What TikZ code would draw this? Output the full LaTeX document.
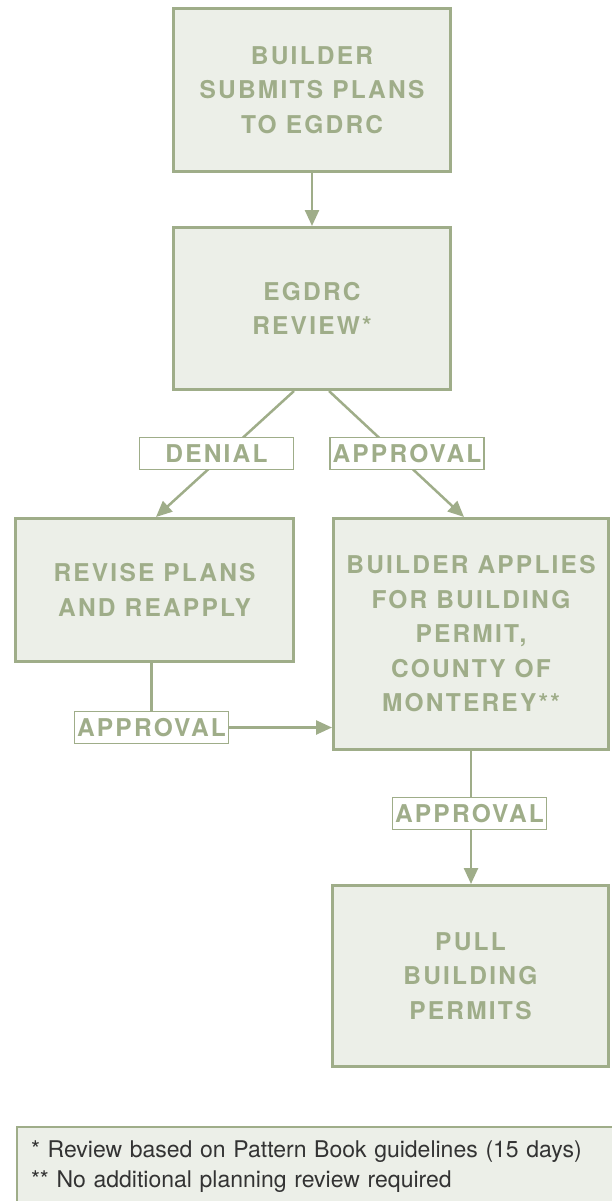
\documentclass[tikz,border=0pt]{standalone}
\usepackage{fontspec}
\setmainfont{TeX Gyre Heros}
\newfontfamily\labfont[LetterSpace=9]{TeX Gyre Heros}
\usepackage{xcolor}
\usetikzlibrary{positioning,arrows.meta}
\definecolor{sage}{HTML}{9FAD89}
\definecolor{paper}{HTML}{ECEFE8}
\definecolor{ink}{HTML}{333333}

\begin{document}
\begin{tikzpicture}[x=1pt, y=-1pt,
  box/.style={draw=sage, line width=3pt, fill=paper, text=sage, align=center, inner sep=0pt,
    font=\labfont\bfseries\fontsize{24.5}{34.5}\selectfont},
  tag/.style={draw=sage, line width=1.3pt, fill=white, text=sage, inner sep=0pt,
    minimum width=154pt, minimum height=32pt, font=\labfont\bfseries\fontsize{24.5}{28}\selectfont},
  note/.style={draw=sage, line width=2pt, fill=paper, text=ink, align=left, inner xsep=14pt,
    inner ysep=14pt, text width=575pt, font=\fontsize{23}{30}\selectfont},
  arr/.style={draw=sage, line width=2.5pt, -{Triangle[length=16pt, width=14pt]}},
  link/.style={draw=sage, line width=2.5pt}]
\useasboundingbox (0,0) rectangle (611,1201);
\node[box, minimum width=277pt, minimum height=163pt] (submit) at (312,90) {BUILDER\\ SUBMITS PLANS\\ TO EGDRC};
\node[box, minimum width=277pt, minimum height=162pt, below=53pt of submit] (review) {EGDRC\\ REVIEW*};
\node[box, minimum width=278pt, minimum height=143pt] (revise) at (154.5,590) {REVISE PLANS\\ AND REAPPLY};
\node[box, minimum width=275pt, minimum height=231pt] (builder) at (471,634)
  {BUILDER APPLIES\\ FOR BUILDING\\ PERMIT,\\ COUNTY OF\\ MONTEREY**};
\node[box, minimum width=276pt, minimum height=181pt] (pull) at (470.5,976) {PULL\\ BUILDING\\ PERMITS};
\draw[arr] (submit) -- (review);
\draw[arr] ([xshift=-18pt]review.south) -- ([xshift=1.5pt]revise.north);
\draw[arr] ([xshift=17pt]review.south) -- ([xshift=-7pt]builder.north);
\draw[arr] (builder.south) -- (builder.south |- pull.north);
\node[tag] (deny) at (216.5,453.5) {DENIAL};
\node[tag] (approve) at (407,453.5) {APPROVAL};
\node[tag] (approvelow) at (469.5,813.5) {APPROVAL};
\node[tag] (approveleft) at (151.5,727.5) {APPROVAL};
\draw[link] (approveleft.north |- revise.south) -- (approveleft.north);
\draw[arr] (approveleft.east) -- (approveleft.east -| builder.west);
% footnotes
\node[note, anchor=north west] (notes) at (16,1126)
  {* Review based on Pattern Book guidelines (15 days)\\ {*}* No additional planning review required};
\end{tikzpicture}
\end{document}
